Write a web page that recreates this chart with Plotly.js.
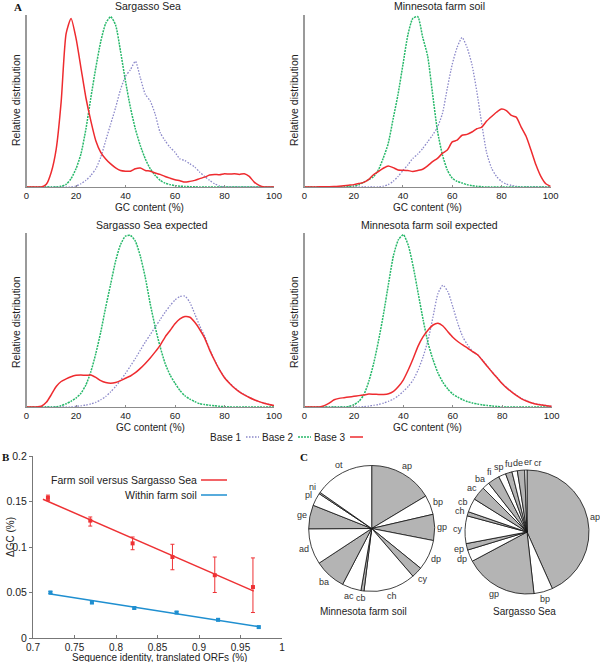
<!DOCTYPE html>
<html>
<head>
<meta charset="utf-8">
<script src="https://cdn.plot.ly/plotly-3.0.1.min.js"></script>
<style>html,body{margin:0;padding:0;background:#fff;}#chart{width:600px;height:662px;}</style>
</head>
<body>
<div id="chart"></div>
<script>
// ---------- DATA ----------
// Panel A: GC content grid (%)
const gc = [0,2,4,6,8,10,12,14,16,18,20,22,24,26,28,30,32,34,36,38,40,42,44,46,48,50,52,54,56,58,60,62,64,66,68,70,72,74,76,78,80,82,84,86,88,90,92,94,96,98,100];

// Sargasso Sea (observed)
const ssBase1 = [0,0,0,0,0,0,0,0,0,0,0.006,0.019,0.039,0.068,0.107,0.175,0.272,0.369,0.466,0.573,0.65,0.689,0.738,0.641,0.544,0.505,0.427,0.32,0.272,0.233,0.204,0.165,0.155,0.136,0.117,0.087,0.062,0.039,0.019,0.006,0,0,0,0,0,0,0,0,0,0,0];
const ssBase2 = [0,0,0,0,0,0,0,0.004,0.016,0.049,0.107,0.194,0.34,0.524,0.70,0.854,0.961,1.0,0.951,0.796,0.621,0.466,0.34,0.243,0.165,0.107,0.068,0.039,0.023,0.014,0.008,0.005,0.003,0.002,0.001,0,0,0,0,0,0,0,0,0,0,0,0,0,0,0,0];
const ssBase3 = [0,0,0,0,0.016,0.087,0.223,0.50,0.90,0.99,0.874,0.70,0.524,0.388,0.272,0.204,0.165,0.136,0.113,0.097,0.093,0.093,0.107,0.111,0.097,0.093,0.082,0.074,0.062,0.052,0.043,0.037,0.029,0.033,0.039,0.049,0.058,0.07,0.074,0.072,0.078,0.076,0.078,0.074,0.078,0.062,0.029,0.01,0,0,0];

// Minnesota farm soil (observed)
const mfBase1 = [0,0,0,0,0,0,0,0,0,0,0,0,0,0,0,0,0.005,0.014,0.033,0.062,0.097,0.13,0.168,0.193,0.226,0.265,0.304,0.352,0.43,0.58,0.72,0.82,0.878,0.82,0.72,0.56,0.37,0.2,0.11,0.062,0.033,0.017,0.01,0.004,0,0,0,0,0,0,0];
const mfBase2 = [0,0,0,0,0,0,0,0,0,0.003,0.006,0.013,0.027,0.043,0.06,0.1,0.17,0.255,0.4,0.545,0.72,0.894,0.99,1.0,0.88,0.77,0.55,0.33,0.19,0.1,0.052,0.033,0.023,0.014,0.008,0.004,0.002,0,0,0,0,0,0,0,0,0,0,0,0,0,0];
const mfBase3 = [0,0,0,0.001,0.001,0.002,0.003,0.005,0.008,0.011,0.014,0.02,0.027,0.043,0.072,0.091,0.11,0.124,0.114,0.1,0.099,0.097,0.091,0.097,0.104,0.124,0.149,0.168,0.197,0.217,0.265,0.275,0.304,0.309,0.323,0.342,0.352,0.387,0.414,0.439,0.458,0.449,0.42,0.41,0.352,0.298,0.217,0.13,0.062,0.019,0.004];

// Sargasso Sea expected
const sseBase1 = [0,0,0,0,0,0,0,0,0,0,0.004,0.007,0.011,0.018,0.027,0.042,0.061,0.088,0.119,0.155,0.195,0.238,0.282,0.33,0.377,0.42,0.464,0.507,0.55,0.588,0.621,0.642,0.644,0.607,0.54,0.47,0.41,0.335,0.272,0.217,0.172,0.14,0.112,0.09,0.072,0.056,0.043,0.032,0.023,0.015,0.008];
const sseBase2 = [0,0,0,0,0,0,0,0.008,0.019,0.033,0.052,0.08,0.128,0.205,0.31,0.435,0.579,0.713,0.847,0.943,0.992,0.996,0.962,0.875,0.751,0.598,0.464,0.349,0.253,0.186,0.138,0.096,0.065,0.046,0.031,0.019,0.014,0.01,0.007,0.004,0.002,0,0,0,0,0,0,0,0,0,0];
const sseBase3 = [0,0,0,0.004,0.027,0.071,0.119,0.148,0.163,0.176,0.184,0.186,0.184,0.186,0.172,0.153,0.142,0.138,0.142,0.153,0.167,0.18,0.199,0.224,0.253,0.285,0.32,0.358,0.406,0.444,0.483,0.511,0.525,0.521,0.492,0.45,0.40,0.33,0.27,0.215,0.17,0.138,0.11,0.088,0.07,0.055,0.042,0.031,0.022,0.014,0.008];

// Minnesota farm soil expected
const mfeBase1 = [0,0,0,0,0,0,0,0,0,0,0,0,0.002,0.005,0.01,0.015,0.023,0.033,0.046,0.066,0.091,0.12,0.158,0.216,0.293,0.389,0.524,0.659,0.707,0.669,0.582,0.486,0.408,0.36,0.322,0.303,0.272,0.237,0.202,0.17,0.137,0.11,0.087,0.066,0.048,0.035,0.024,0.017,0.012,0.007,0.004];
const mfeBase2 = [0,0,0,0,0,0,0,0,0,0.004,0.013,0.033,0.071,0.148,0.254,0.389,0.543,0.717,0.88,0.971,1.0,0.938,0.813,0.659,0.505,0.37,0.274,0.197,0.143,0.104,0.075,0.057,0.042,0.031,0.023,0.017,0.012,0.009,0.006,0.003,0,0,0,0,0,0,0,0,0,0,0];
const mfeBase3 = [0,0,0,0,0.008,0.023,0.042,0.05,0.054,0.058,0.062,0.066,0.07,0.075,0.074,0.073,0.073,0.077,0.091,0.119,0.158,0.216,0.283,0.355,0.408,0.447,0.476,0.486,0.47,0.437,0.405,0.38,0.36,0.341,0.322,0.303,0.27,0.235,0.2,0.168,0.135,0.108,0.085,0.064,0.046,0.033,0.023,0.016,0.012,0.007,0.004];

const gcTicks = [0,20,40,60,80,100];

// Panel B
const farmVsSeaX = [0.718,0.769,0.820,0.868,0.919,0.965];
const farmVsSeaY = [0.154,0.129,0.104,0.089,0.069,0.056];
const farmVsSeaErrUp = [0.003,0.004,0.007,0.014,0.020,0.032];
const farmVsSeaErrDown = [0.003,0.006,0.007,0.014,0.019,0.028];
const farmVsSeaFitX = [0.712,0.966];
const farmVsSeaFitY = [0.1525,0.0515];
const withinFarmX = [0.721,0.771,0.822,0.873,0.923,0.972];
const withinFarmY = [0.050,0.039,0.033,0.028,0.020,0.012];
const withinFarmErr = [0.0012,0.0012,0.0012,0.0012,0.0012,0.001];
const withinFarmFitX = [0.719,0.972];
const withinFarmFitY = [0.0485,0.0125];
const bXTicks = [0.7,0.75,0.8,0.85,0.9,0.95,1];
const bXTickText = ['0.7','0.75','0.8','0.85','0.9','0.95','1'];
const bYTicks = [0,0.05,0.1,0.15,0.2];
const bYTickText = ['0','0.05','0.1','0.15','0.2'];

// Panel C (percent of sequences)
const soilLabels = ['ap','bp','gp','dp','cy','ch','cb','ac','ba','ad','ge','pl','ni','ot'];
const soilValues = [16.4,5.0,6.7,7.8,2.8,13.3,0.8,4.9,8.1,9.2,6.1,3.3,0.4,15.3];
const seaLabels = ['ap','bp','gp','dp','ep','cy','ch','cb','ac','ba','fi','sp','fu','de','er','cr'];
const seaValues = [43.3,4.9,19.0,3.1,1.7,7.2,1.1,3.6,3.6,1.9,3.1,1.9,1.7,1.4,1.9,0.6];

// ---------- STYLE ----------
const W = 600, H = 662;
const px = x => x / W;
const py = y => 1 - y / H;
const FONT = 'Liberation Sans, Arial, sans-serif';
const RED = '#ee2b2f', GREEN = '#27b86a', BLUE = '#8b88c9';
const BRED = '#ee3134', BBLUE = '#1f8fd0';
const GRAY = '#b4b4b4';

const traces = [];
const panels = [
  {xa:'x', ya:'y', s:[ssBase1, ssBase2, ssBase3]},
  {xa:'x2', ya:'y2', s:[mfBase1, mfBase2, mfBase3]},
  {xa:'x3', ya:'y3', s:[sseBase1, sseBase2, sseBase3]},
  {xa:'x4', ya:'y4', s:[mfeBase1, mfeBase2, mfeBase3]}
];
const names = ['Base 1','Base 2','Base 3'];
const lineStyles = [
  {color: BLUE, width: 1.3, dash: '1.5px,1.5px'},
  {color: GREEN, width: 1.5, dash: '2px,1px'},
  {color: RED, width: 1.5, dash: 'solid'}
];
panels.forEach(p => {
  p.s.forEach((ys, i) => {
    traces.push({type:'scatter', mode:'lines', x: gc, y: ys, xaxis: p.xa, yaxis: p.ya,
      name: names[i], line: Object.assign({shape:'spline', smoothing:0.6}, lineStyles[i]), hoverinfo:'skip'});
  });
});

// Panel B traces
traces.push({type:'scatter', mode:'lines', x: farmVsSeaFitX, y: farmVsSeaFitY, xaxis:'x5', yaxis:'y5', line:{color:BRED, width:1.5}});
traces.push({type:'scatter', mode:'markers', x: farmVsSeaX, y: farmVsSeaY, xaxis:'x5', yaxis:'y5',
  marker:{color:BRED, size:4, symbol:'square'},
  error_y:{type:'data', symmetric:false, array: farmVsSeaErrUp, arrayminus: farmVsSeaErrDown, color:BRED, thickness:1, width:2}});
traces.push({type:'scatter', mode:'lines', x: withinFarmFitX, y: withinFarmFitY, xaxis:'x5', yaxis:'y5', line:{color:BBLUE, width:1.5}});
traces.push({type:'scatter', mode:'markers', x: withinFarmX, y: withinFarmY, xaxis:'x5', yaxis:'y5',
  marker:{color:BBLUE, size:4, symbol:'square'},
  error_y:{type:'data', array: withinFarmErr, color:BBLUE, thickness:1, width:2}});

// Panel C pies (centre and radius in pixels)
const soilPie = {cx:371.7, cy:528.5, r:63};
const seaPie = {cx:527, cy:532, r:62};
const alt = n => Array.from({length:n}, (_, i) => i % 2 === 0 ? GRAY : '#ffffff');
function pieTrace(labels, values, g){
  return {type:'pie', labels: labels, values: values, sort:false, direction:'clockwise', rotation:0,
    textinfo:'none', marker:{colors: alt(labels.length), line:{color:'#111', width:0.8}},
    domain:{x:[px(g.cx - g.r), px(g.cx + g.r)], y:[py(g.cy + g.r), py(g.cy - g.r)]}, hoverinfo:'skip'};
}
traces.push(pieTrace(soilLabels, soilValues, soilPie));
traces.push(pieTrace(seaLabels, seaValues, seaPie));

// axes
function gcX(domain, anchor){
  return {domain: domain, anchor: anchor, range:[0,100], tickvals: gcTicks, ticktext: gcTicks.map(String), showline:true, linecolor:'#8c8c8c', linewidth:1,
    ticks:'inside', ticklen:2, tickcolor:'#8c8c8c', showgrid:false, zeroline:false, tickfont:{size:9.5, color:'#222', family:FONT}, fixedrange:true};
}
function relY(domain, anchor){
  return {domain: domain, anchor: anchor, range:[0,1.01], showticklabels:false, ticks:'', showline:true, linecolor:'#9a9a9a', linewidth:1.5,
    showgrid:false, zeroline:false, fixedrange:true};
}
const topY = [py(187), py(15)];
const botY = [py(407), py(233)];

const ann = [];
function txt(x, y, text, opts){
  ann.push(Object.assign({xref:'paper', yref:'paper', x: px(x), y: py(y), text: text, showarrow:false,
    xanchor:'center', yanchor:'middle', borderpad:0, font:{size:10.5, color:'#222', family:FONT}}, opts || {}));
}
// Pie labels placed outside the mid-angle of each slice, nudged apart when crowded
function pieLabels(labels, values, g){
  const total = values.reduce((a, b) => a + b, 0);
  let cum = 0; const placed = [];
  labels.forEach((lab, i) => {
    const mid = (cum + values[i] / 2) / total * 2 * Math.PI; cum += values[i];
    const s = Math.sin(mid), c = Math.cos(mid);
    const d = g.r + 3 + 4.2 * Math.abs(s) + 4 * Math.abs(c);
    let x = g.cx + d * s, y = g.cy - d * c;
    for (let k = 0; k < 60; k++){
      const hit = placed.some(p => Math.abs(p.x - x) < 9.4 && Math.abs(p.y - y) < 8);
      if (!hit) break;
      x += c * 0.5; y += s * 0.5;
    }
    placed.push({x, y});
    txt(x, y, lab, {font:{size:9, color:'#333', family:FONT}});
  });
}
pieLabels(soilLabels, soilValues, soilPie);
pieLabels(seaLabels, seaValues, seaPie);

const serif = {size:11, color:'#111', family:'Liberation Serif, Times New Roman, serif'};
const f10 = {size:10, color:'#222', family:FONT};
txt(18, 7, '<b>A</b>', {font:serif});
txt(6, 457, '<b>B</b>', {font:serif});
txt(304, 457, '<b>C</b>', {font:serif});
// Panel A titles
txt(148, 6, 'Sargasso Sea');
txt(440, 6, 'Minnesota farm soil');
txt(152, 225, 'Sargasso Sea expected');
txt(429, 225, 'Minnesota farm soil expected');
// x axis titles
txt(149, 207.5, 'GC content (%)', {font:f10});
txt(427, 207.5, 'GC content (%)', {font:f10});
txt(150, 427, 'GC content (%)', {font:f10});
txt(427, 427, 'GC content (%)', {font:f10});
// y axis titles
txt(16, 100, 'Relative distribution', {textangle:-90});
txt(294, 100, 'Relative distribution', {textangle:-90});
txt(16, 322, 'Relative distribution', {textangle:-90});
txt(294, 322, 'Relative distribution', {textangle:-90});
// Base legend
txt(243, 437, 'Base 1', {xanchor:'right', font:f10});
txt(295, 437, 'Base 2', {xanchor:'right', font:f10});
txt(347, 437, 'Base 3', {xanchor:'right', font:f10});
// Panel B legend + titles
txt(198, 480, 'Farm soil versus Sargasso Sea', {xanchor:'right'});
txt(198, 495, 'Within farm soil', {xanchor:'right'});
txt(159, 657.5, 'Sequence identity, translated ORFs (%)', {font:f10});
txt(10, 537, 'ΔGC (%)', {textangle:-90, font:f10});
// Panel C pie captions
txt(363, 611, 'Minnesota farm soil', {font:f10});
txt(524, 611, 'Sargasso Sea', {font:f10});

const shapes = [
  {type:'line', xref:'paper', yref:'paper', x0:px(246), x1:px(259), y0:py(437), y1:py(437), line:{color:BLUE, width:1.3, dash:'1.5px,1.5px'}},
  {type:'line', xref:'paper', yref:'paper', x0:px(298), x1:px(311), y0:py(437), y1:py(437), line:{color:GREEN, width:1.5, dash:'2px,1px'}},
  {type:'line', xref:'paper', yref:'paper', x0:px(350), x1:px(363), y0:py(437), y1:py(437), line:{color:RED, width:1.5}},
  {type:'line', xref:'paper', yref:'paper', x0:px(201), x1:px(227), y0:py(480), y1:py(480), line:{color:BRED, width:1.5}},
  {type:'line', xref:'paper', yref:'paper', x0:px(201), x1:px(227), y0:py(495), y1:py(495), line:{color:BBLUE, width:1.5}}
];

const layout = {
  width: W, height: H, margin:{l:0, r:0, t:0, b:0}, paper_bgcolor:'#fff', plot_bgcolor:'rgba(0,0,0,0)',
  showlegend:false, font:{family:FONT, size:10, color:'#222'},
  xaxis: gcX([px(26.5), px(274)], 'y'), yaxis: relY(topY, 'x'),
  xaxis2: gcX([px(304.5), px(550.7)], 'y2'), yaxis2: relY(topY, 'x2'),
  xaxis3: gcX([px(26.5), px(274)], 'y3'), yaxis3: relY(botY, 'x3'),
  xaxis4: gcX([px(304.5), px(551.7)], 'y4'), yaxis4: relY(botY, 'x4'),
  xaxis5: {domain:[px(33), px(282)], anchor:'y5', range:[0.7,1], tickvals: bXTicks, ticktext: bXTickText, showline:true, linecolor:'#777', linewidth:1,
    ticks:'inside', ticklen:3, tickcolor:'#777', showgrid:false, zeroline:false, tickfont:{size:10, color:'#222', family:FONT}, fixedrange:true},
  yaxis5: {domain:[py(638), py(456)], anchor:'x5', range:[0,0.2], tickvals: bYTicks, ticktext: bYTickText, showline:true, linecolor:'#777', linewidth:1,
    ticks:'outside', ticklen:3, tickcolor:'#777', showgrid:false, zeroline:false, tickfont:{size:10.5, color:'#222', family:FONT}, fixedrange:true},
  annotations: ann, shapes: shapes
};

Plotly.newPlot('chart', traces, layout, {staticPlot:true, displayModeBar:false});
</script>
</body>
</html>
